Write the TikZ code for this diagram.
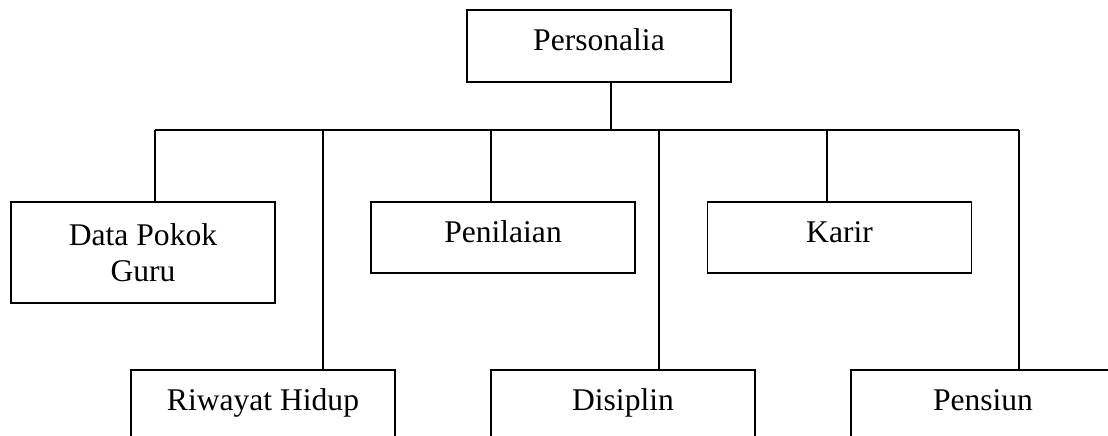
\documentclass[tikz,border=0pt]{standalone}
\usepackage{fontspec}
\setmainfont{Liberation Serif}
\usetikzlibrary{positioning}

\begin{document}
\begin{tikzpicture}[x=0.38pt, y=-0.38pt,
    unit/.style={draw, line width=0.6pt, minimum width=100.3pt, minimum height=27pt, inner sep=0pt, align=center, font=\fontsize{12}{13.8}\selectfont, text height=0.6em, text depth=0.25em},
    link/.style={line width=0.6pt}
]
\useasboundingbox (0,0) rectangle (1108,436);
\clip (0,0) rectangle (1108,436);

\node[unit, minimum height=27.4pt] (pers) at (599,46) {Personalia};
\node[unit, minimum height=38.4pt, text height=, text depth=] (dpg) at (143,252.5) {Data Pokok\\Guru};
\node[unit] (pen) at (503,237.5) {Penilaian};
\node[unit] (kar) at (839.5,237.5) {Karir};
\node[unit] (riw) at (263,405.5) {Riwayat Hidup};
\node[unit] (dis) at (623,405.5) {Disiplin};
\node[unit] (pns) at (983,405.5) {Pensiun};

\coordinate (hub) at (611,130);
\coordinate (b1) at (155,130);
\coordinate (b2) at (323,130);
\coordinate (b3) at (491,130);
\coordinate (b4) at (659,130);
\coordinate (b5) at (827,130);
\coordinate (b6) at (1019,130);

\draw[link] (pers.south -| hub) -- (hub);
\draw[link] (b1) -- (b6);
\draw[link] (b1) -- (b1 |- dpg.north);
\draw[link] (b2) -- (b2 |- riw.north);
\draw[link] (b3) -- (b3 |- pen.north);
\draw[link] (b4) -- (b4 |- dis.north);
\draw[link] (b5) -- (b5 |- kar.north);
\draw[link] (b6) -- (b6 |- pns.north);
\end{tikzpicture}
\end{document}
